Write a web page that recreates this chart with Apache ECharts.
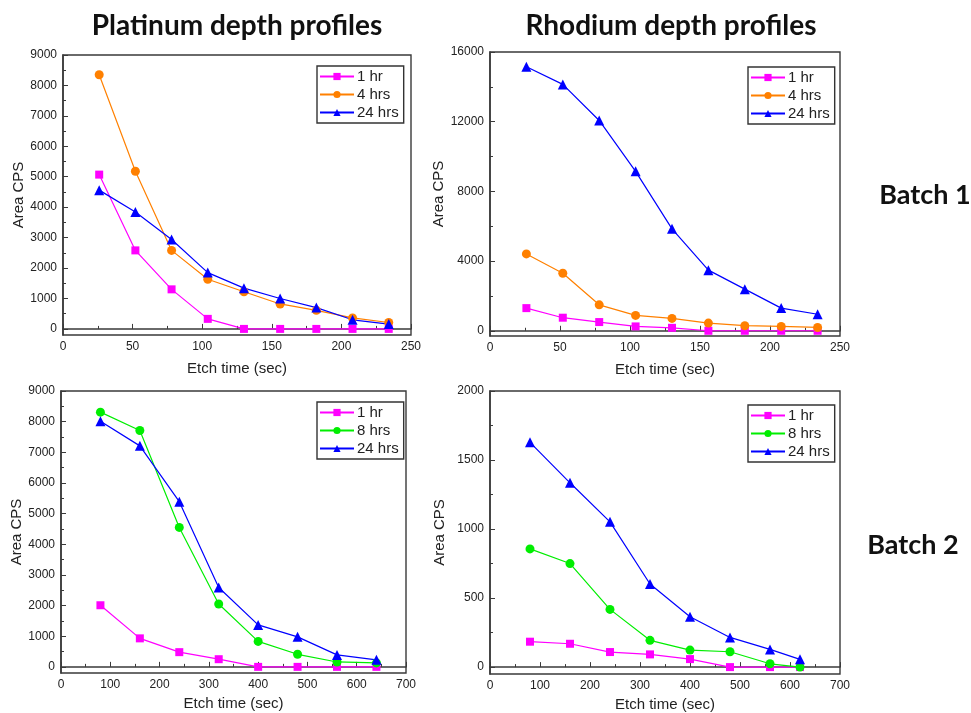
<!DOCTYPE html>
<html lang="en">
<head>
    <meta charset="UTF-8">
    <title>Depth profiles</title>
    <style>
        * {
            margin: 0;
            padding: 0;
        }

        .main {
            width: 971px;
            height: 713px;
            background: #fff;
        }
    </style>
</head>
<body>
<div id="main" class="main"></div>
<script src="https://cdn.jsdelivr.net/npm/echarts@6/dist/echarts.min.js"></script>
<script>
    // etch times (sec)
    var batch1Time = [26, 52, 78, 104, 130, 156, 182, 208, 234];
    var batch2Time = [80, 160, 240, 320, 400, 480, 560, 640];
    var batch2TimeRh = [80, 160, 240, 320, 400, 480, 560, 620];

    // Platinum, batch 1
    var pt1_1hr = [5070, 2580, 1300, 330, 0, 0, 0, 0, 0];
    var pt1_4hrs = [8350, 5180, 2580, 1630, 1220, 820, 610, 360, 210];
    var pt1_24hrs = [4560, 3840, 2940, 1850, 1340, 1000, 700, 300, 160];

    // Rhodium, batch 1
    var rh1_1hr = [1300, 750, 500, 250, 170, 0, 0, 0, 0];
    var rh1_4hrs = [4410, 3300, 1490, 880, 710, 440, 290, 250, 190];
    var rh1_24hrs = [15150, 14140, 12070, 9150, 5850, 3480, 2390, 1300, 950];

    // Platinum, batch 2
    var pt2_1hr = [2010, 930, 480, 250, 0, 0, 0, 0];
    var pt2_8hrs = [8310, 7710, 4550, 2050, 830, 410, 160, 130];
    var pt2_24hrs = [8010, 7210, 5390, 2590, 1370, 980, 390, 230];

    // Rhodium, batch 2
    var rh2_1hr = [184, 169, 109, 92, 58, 0, 0, 0];
    var rh2_8hrs = [856, 750, 418, 194, 123, 111, 24, 0];
    var rh2_24hrs = [1628, 1335, 1052, 602, 365, 215, 128, 56];

    // tick labels
    var ptTicks = [0, 1000, 2000, 3000, 4000, 5000, 6000, 7000, 8000, 9000];
    var ptMinor = [500, 1500, 2500, 3500, 4500, 5500, 6500, 7500, 8500];
    var rh1Ticks = [0, 4000, 8000, 12000, 16000];
    var rh1Minor = [2000, 6000, 10000, 14000];
    var rh2Ticks = [0, 500, 1000, 1500, 2000];
    var rh2Minor = [250, 750, 1250, 1750];

    var names1 = ['1 hr', '4 hrs', '24 hrs'];
    var names2 = ['1 hr', '8 hrs', '24 hrs'];

    var PINK = '#ff00ff', ORANGE = '#ff8000', GREEN = '#00ee00', BLUE = '#0000ff';
    var FONT = 'Liberation Sans';
    var AXIS = '#3a3a3a';

    var grids = [
        {left: 63, top: 55, width: 348, height: 280},
        {left: 490, top: 52, width: 350, height: 284},
        {left: 61, top: 391, width: 345, height: 282},
        {left: 490, top: 391, width: 350, height: 283}
    ];

    function pairs(xs, ys) {
        return xs.map(function (x, i) {
            return [x, ys[i]];
        });
    }

    function plain(v) {
        return String(v);
    }

    var xAxes = [], yAxes = [], series = [], legends = [];

    function panel(idx, xMax, xInt, yMin, yMax, ticks, minor, xGap, yGap) {
        xAxes.push({
            type: 'value', gridIndex: idx, min: 0, max: xMax, interval: xInt,
            name: 'Etch time (sec)', nameLocation: 'middle', nameGap: xGap,
            nameTextStyle: {fontFamily: FONT, fontSize: 15, color: '#222'},
            axisLine: {lineStyle: {color: AXIS, width: 1.6}},
            axisTick: {inside: true, length: 5, lineStyle: {color: AXIS}},
            minorTick: {show: true, splitNumber: 2, length: 3, lineStyle: {color: AXIS}},
            axisLabel: {fontFamily: FONT, fontSize: 12, color: '#222', margin: 6, formatter: plain},
            splitLine: {show: false}
        });
        yAxes.push({
            type: 'value', gridIndex: idx, min: yMin, max: yMax,
            name: 'Area CPS', nameLocation: 'middle', nameRotate: 90, nameGap: yGap,
            nameTextStyle: {fontFamily: FONT, fontSize: 15, color: '#222'},
            axisLine: {lineStyle: {color: AXIS, width: 1.6}},
            axisTick: {inside: true, length: 5, customValues: ticks, lineStyle: {color: AXIS}},
            axisLabel: {
                fontFamily: FONT, fontSize: 12, color: '#222', margin: 6,
                customValues: ticks, formatter: plain
            },
            splitLine: {show: false}
        });
        // minor ticks only
        yAxes.push({
            type: 'value', gridIndex: idx, min: yMin, max: yMax, position: 'left',
            axisLine: {show: false},
            axisTick: {inside: true, length: 3, customValues: minor, lineStyle: {color: AXIS}},
            axisLabel: {show: false},
            splitLine: {show: false}
        });
    }

    panel(0, 250, 50, -200, 9000, ptTicks, ptMinor, 26, 36);
    panel(1, 250, 50, -300, 16000, rh1Ticks, rh1Minor, 26, 43);
    panel(2, 700, 100, -200, 9000, ptTicks, ptMinor, 23, 35);
    panel(3, 700, 100, -50, 2000, rh2Ticks, rh2Minor, 23, 43);

    function line(idx, name, color, symbol, size, xs, ys) {
        series.push({
            type: 'line', name: name, xAxisIndex: idx, yAxisIndex: idx * 2,
            data: pairs(xs, ys),
            symbol: symbol, symbolSize: size,
            itemStyle: {color: color},
            lineStyle: {color: color, width: 1.2},
            emphasis: {disabled: true},
            animation: false
        });
    }

    var sets = [
        [batch1Time, [pt1_1hr, pt1_4hrs, pt1_24hrs], names1, ORANGE],
        [batch1Time, [rh1_1hr, rh1_4hrs, rh1_24hrs], names1, ORANGE],
        [batch2Time, [pt2_1hr, pt2_8hrs, pt2_24hrs], names2, GREEN],
        [batch2TimeRh, [rh2_1hr, rh2_8hrs, rh2_24hrs], names2, GREEN]
    ];
    var legendPos = [[317, 66], [748, 67], [317, 402], [748, 405]];

    sets.forEach(function (s, i) {
        var ids = ['p' + i + 'a', 'p' + i + 'b', 'p' + i + 'c'];
        line(i, ids[0], PINK, 'rect', 8, s[0], s[1][0]);
        line(i, ids[1], s[3], 'circle', 9, s[0], s[1][1]);
        line(i, ids[2], BLUE, 'triangle', 10, s[0], s[1][2]);
        legends.push({
            orient: 'vertical', left: legendPos[i][0], top: legendPos[i][1],
            data: ids, itemWidth: 34, itemHeight: 9, itemGap: 3,
            padding: [3, 5, 3, 2], borderColor: '#333', borderWidth: 1.4,
            selectedMode: false,
            formatter: function (n) {
                return s[2][ids.indexOf(n)];
            },
            textStyle: {fontFamily: FONT, fontSize: 15, color: '#222', padding: [0, 0, 0, -2]}
        });
    });

    var TITLE_FONT = 'Lato';
    var titles = [
        {text: 'Platinum depth profiles', left: 232, top: 7, size: 28},
        {text: 'Rhodium depth profiles', left: 666, top: 7, size: 28},
        {text: 'Batch 1', left: 920, top: 177, size: 27},
        {text: 'Batch 2', left: 908, top: 527, size: 27}
    ].map(function (t) {
        t.textAlign = 'center';
        t.textStyle = {fontFamily: TITLE_FONT, fontSize: t.size, fontWeight: 'bold', color: '#111'};
        delete t.size;
        return t;
    });

    var myChart = echarts.init(document.getElementById('main'), null, {renderer: 'canvas'});
    myChart.setOption({
        animation: false,
        backgroundColor: '#fff',
        title: titles,
        grid: grids.map(function (g) {
            g.show = true;
            g.borderColor = AXIS;
            g.borderWidth = 1.4;
            return g;
        }),
        legend: legends,
        xAxis: xAxes,
        yAxis: yAxes,
        series: series
    });
</script>
</body>
</html>
